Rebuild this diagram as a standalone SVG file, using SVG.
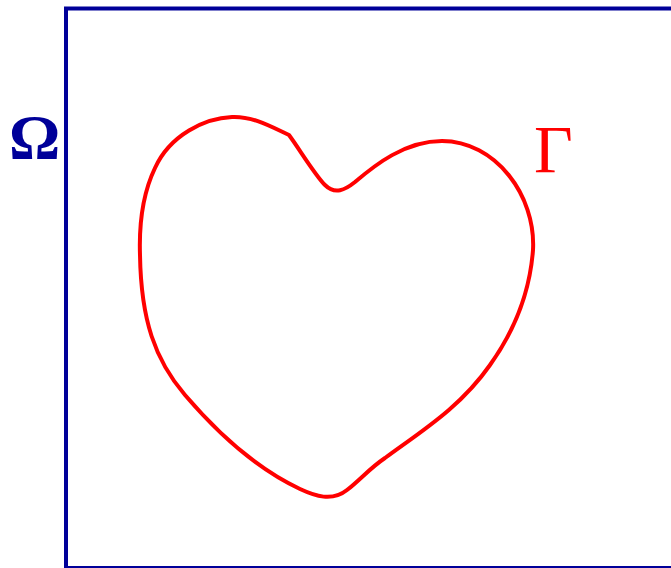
<svg xmlns="http://www.w3.org/2000/svg" width="671" height="568" viewBox="0 0 671 568">
<style>
.lbl{font-family:"Liberation Serif","DejaVu Serif",serif;font-size:64px}
</style>
<rect width="671" height="568" fill="#fff"/>
<g id="domain">
<path d="M66,570 V8.5 H680 M66,568 H680" fill="none" stroke="#000099" stroke-width="4"/>
<text class="lbl" x="9" y="159" fill="#000099" font-weight="bold">Ω</text>
</g>
<g id="boundary">
<path d="M289,135 C270,126 252,116 232,117 C205,118 170,135 155,168 C142,195 139,225 140,255 C141,320 155,360 185,395 C215,430 255,468 300,489 C315,496 332,502 347,490 C360,480 370,468 385,458 C420,432 460,408 490,365 C515,330 530,290 533,250 C536,195 495,141 442,141 C405,141 375,165 355,182 C345,190 335,195 325,185 C315,175 300,150 289,135 Z" fill="none" stroke="#ff0000" stroke-width="4" stroke-linejoin="miter"/>
<text class="lbl" x="534" y="172" fill="#ff0000" style="font-size:67px">Γ</text>
</g>
</svg>
